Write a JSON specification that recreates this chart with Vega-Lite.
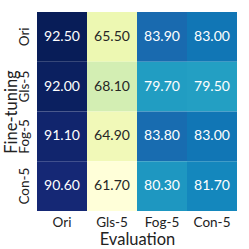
{
  "$schema": "https://vega.github.io/schema/vega-lite/v6.json",
  "width": 200,
  "height": 199,
  "autosize": {"type": "none"},
  "padding": {"left": 37, "top": 12, "right": 12, "bottom": 38},
  "background": "white",
  "config": {"view": {"stroke": null}, "font": "Lato"},
  "data": {"values": [
    {"ft": "Ori", "ev": "Ori", "v": 92.5},
    {"ft": "Ori", "ev": "Gls-5", "v": 65.5},
    {"ft": "Ori", "ev": "Fog-5", "v": 83.9},
    {"ft": "Ori", "ev": "Con-5", "v": 83.0},
    {"ft": "Gls-5", "ev": "Ori", "v": 92.0},
    {"ft": "Gls-5", "ev": "Gls-5", "v": 68.1},
    {"ft": "Gls-5", "ev": "Fog-5", "v": 79.7},
    {"ft": "Gls-5", "ev": "Con-5", "v": 79.5},
    {"ft": "Fog-5", "ev": "Ori", "v": 91.1},
    {"ft": "Fog-5", "ev": "Gls-5", "v": 64.9},
    {"ft": "Fog-5", "ev": "Fog-5", "v": 83.8},
    {"ft": "Fog-5", "ev": "Con-5", "v": 83.0},
    {"ft": "Con-5", "ev": "Ori", "v": 90.6},
    {"ft": "Con-5", "ev": "Gls-5", "v": 61.7},
    {"ft": "Con-5", "ev": "Fog-5", "v": 80.3},
    {"ft": "Con-5", "ev": "Con-5", "v": 81.7}
  ]},
  "encoding": {
    "x": {"field": "ev", "type": "nominal", "sort": ["Ori", "Gls-5", "Fog-5", "Con-5"],
      "scale": {"paddingInner": 0, "paddingOuter": 0},
      "axis": {"title": "Evaluation", "labelAngle": 0, "ticks": false, "domain": false, "labelPadding": 4,
        "labelFontSize": 13.5, "labelFontWeight": "normal", "titleFontSize": 16.5, "titleFontWeight": "normal", "titlePadding": 3, "labelColor": "#222", "titleColor": "#222"}},
    "y": {"field": "ft", "type": "nominal", "sort": ["Ori", "Gls-5", "Fog-5", "Con-5"],
      "scale": {"paddingInner": 0, "paddingOuter": 0},
      "axis": {"title": "Fine-tuning", "labelAngle": -90, "labelAlign": "center", "labelBaseline": "bottom", "ticks": false, "domain": false, "labelPadding": 6,
        "labelFontSize": 13.5, "labelFontWeight": "normal", "titleFontSize": 16.5, "titleFontWeight": "normal", "titlePadding": -2, "labelColor": "#222", "titleColor": "#222"}}
  },
  "layer": [
    {"mark": {"type": "rect"},
     "encoding": {"color": {"field": "v", "type": "quantitative", "legend": null,
       "scale": {"domain": [61.7, 92.5], "range": ["#ffffd9", "#edf8b1", "#c7e9b4", "#7fcdbb", "#41b6c4", "#1d91c0", "#225ea8", "#253494", "#081d58"]}}}},
    {"mark": {"type": "text", "fontSize": 14, "fontWeight": "normal"},
     "encoding": {"text": {"field": "v", "type": "quantitative", "format": ".2f"},
       "color": {"condition": {"test": "datum.v < 72", "value": "#262626"}, "value": "white"}}}
  ]
}
